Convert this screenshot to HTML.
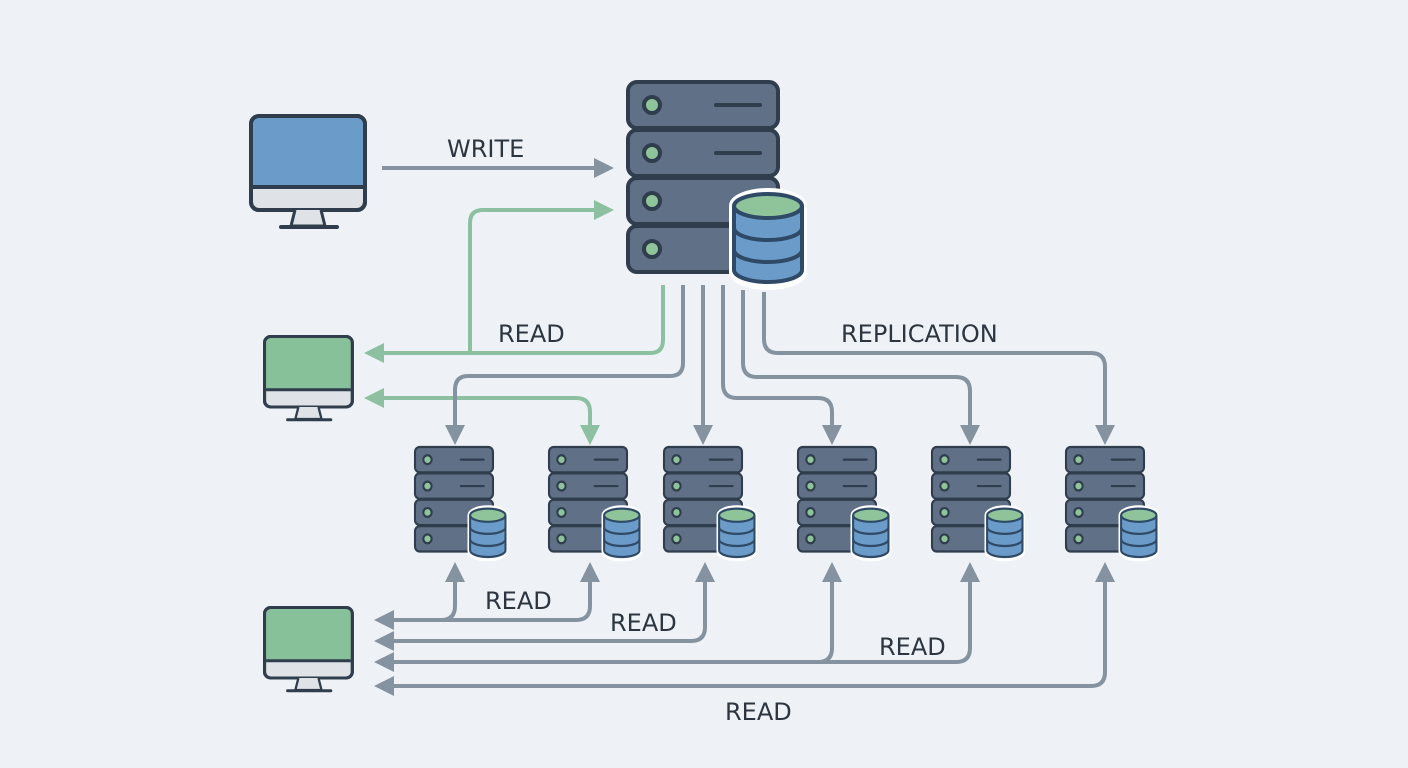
<!DOCTYPE html>
<html><head><meta charset="utf-8"><style>
html,body{margin:0;padding:0;background:#eef2f6;}
svg{display:block;}
text{font-family:"DejaVu Sans","Liberation Sans",sans-serif;font-size:24px;fill:#2c3540;}
</style></head><body>
<svg width="1408" height="768" viewBox="0 0 1408 768" xmlns="http://www.w3.org/2000/svg">
<defs>
<marker id="ag" viewBox="0 0 10 10" refX="8" refY="5" markerWidth="5" markerHeight="5" orient="auto-start-reverse" markerUnits="strokeWidth"><path d="M0,0 L10,5 L0,10 z" fill="#8593a0"/></marker>
<marker id="gg" viewBox="0 0 10 10" refX="8" refY="5" markerWidth="5" markerHeight="5" orient="auto-start-reverse" markerUnits="strokeWidth"><path d="M0,0 L10,5 L0,10 z" fill="#8cc0a0"/></marker>
<g id="srv">
  <g stroke="#2f3d4d" stroke-width="4">
    <rect x="0" y="0" width="150" height="46" rx="9" fill="#5f7087"/>
    <rect x="0" y="48" width="150" height="46" rx="9" fill="#5f7087"/>
    <rect x="0" y="96" width="150" height="46" rx="9" fill="#5f7087"/>
    <rect x="0" y="144" width="150" height="46" rx="9" fill="#5f7087"/>
    <circle cx="24" cy="23" r="8" fill="#8fc49a"/>
    <circle cx="24" cy="71" r="8" fill="#8fc49a"/>
    <circle cx="24" cy="119" r="8" fill="#8fc49a"/>
    <circle cx="24" cy="167" r="8" fill="#8fc49a"/>
    <line x1="88" y1="23" x2="132" y2="23" stroke-linecap="round"/>
    <line x1="88" y1="71" x2="132" y2="71" stroke-linecap="round"/>
  </g>
  <path d="M104,124 A36,15 0 0 1 176,124 L176,190 A36,15 0 0 1 104,190 Z" fill="#eef2f6" stroke="#ffffff" stroke-width="6"/>
  <g stroke="#2f4a66" stroke-width="4">
    <path d="M106,124 L106,188 A34,12 0 0 0 174,188 L174,124" fill="#6b9bc8"/>
    <path d="M106,146 A34,12 0 0 0 174,146 M106,168 A34,12 0 0 0 174,168" fill="none"/>
    <ellipse cx="140" cy="124" rx="34" ry="12" fill="#8fc49a"/>
  </g>
</g>
<g id="mon">
  <rect x="2" y="2" width="114" height="94" rx="8" fill="#dfe3e8" stroke="#2f3d4d" stroke-width="4"/>
  <path d="M4,72 L4,10 Q4,4 10,4 L108,4 Q114,4 114,10 L114,72 Z" fill="var(--sc)"/>
  <line x1="4" y1="73" x2="114" y2="73" stroke="#2f3d4d" stroke-width="4"/>
  <rect x="2" y="2" width="114" height="94" rx="8" fill="none" stroke="#2f3d4d" stroke-width="4"/>
  <path d="M46,96 L42,112 L76,112 L72,96" fill="#dfe3e8" stroke="#2f3d4d" stroke-width="3"/>
  <line x1="32" y1="113" x2="88" y2="113" stroke="#2f3d4d" stroke-width="4" stroke-linecap="round"/>
</g>
</defs>

<use href="#mon" x="249" y="114" style="--sc:#6b9bc8"/>
<use href="#mon" transform="translate(263,335) scale(0.77,0.75)" style="--sc:#86c19a"/>
<use href="#mon" transform="translate(263,606) scale(0.77,0.75)" style="--sc:#86c19a"/>

<g fill="none" stroke-width="4">
  <path d="M382,168 L610,168" stroke="#8593a0" marker-end="url(#ag)"/>
  <path d="M663,285 L663,340 Q663,353 650,353 L368,353" stroke="#8cc0a0" marker-end="url(#gg)"/>
  <path d="M470,353 L470,223 Q470,210 483,210 L610,210" stroke="#8cc0a0" marker-end="url(#gg)"/>
  <path d="M368,398 L576,398 Q590,398 590,412 L590,441" stroke="#8cc0a0" marker-start="url(#gg)" marker-end="url(#gg)"/>
  <path d="M683,285 L683,363 Q683,376 670,376 L468,376 Q455,376 455,390 L455,441" stroke="#8593a0" marker-end="url(#ag)"/>
  <path d="M703,285 L703,441" stroke="#8593a0" marker-end="url(#ag)"/>
  <path d="M723,285 L723,384 Q723,398 737,398 L818,398 Q832,398 832,412 L832,441" stroke="#8593a0" marker-end="url(#ag)"/>
  <path d="M743,290 L743,363 Q743,377 757,377 L956,377 Q970,377 970,391 L970,441" stroke="#8593a0" marker-end="url(#ag)"/>
  <path d="M764,292 L764,339 Q764,353 778,353 L1091,353 Q1105,353 1105,367 L1105,441" stroke="#8593a0" marker-end="url(#ag)"/>
  <path d="M378,620 L576,620 Q590,620 590,606 L590,566" stroke="#8593a0" marker-start="url(#ag)" marker-end="url(#ag)"/>
  <path d="M441,620 Q455,620 455,606 L455,566" stroke="#8593a0" marker-end="url(#ag)"/>
  <path d="M378,641 L691,641 Q705,641 705,627 L705,566" stroke="#8593a0" marker-start="url(#ag)" marker-end="url(#ag)"/>
  <path d="M378,662 L956,662 Q970,662 970,648 L970,566" stroke="#8593a0" marker-start="url(#ag)" marker-end="url(#ag)"/>
  <path d="M818,662 Q832,662 832,648 L832,566" stroke="#8593a0" marker-end="url(#ag)"/>
  <path d="M378,686 L1091,686 Q1105,686 1105,672 L1105,566" stroke="#8593a0" marker-start="url(#ag)" marker-end="url(#ag)"/>
</g>

<use href="#srv" x="628" y="82"/>
<use href="#srv" transform="translate(415,447) scale(0.52,0.55)"/>
<use href="#srv" transform="translate(549,447) scale(0.52,0.55)"/>
<use href="#srv" transform="translate(664,447) scale(0.52,0.55)"/>
<use href="#srv" transform="translate(798,447) scale(0.52,0.55)"/>
<use href="#srv" transform="translate(932,447) scale(0.52,0.55)"/>
<use href="#srv" transform="translate(1066,447) scale(0.52,0.55)"/>

<text x="447" y="157">WRITE</text>
<text x="498" y="342">READ</text>
<text x="841" y="342">REPLICATION</text>
<text x="485" y="609">READ</text>
<text x="610" y="631">READ</text>
<text x="879" y="655">READ</text>
<text x="725" y="720">READ</text>
</svg>
</body></html>
